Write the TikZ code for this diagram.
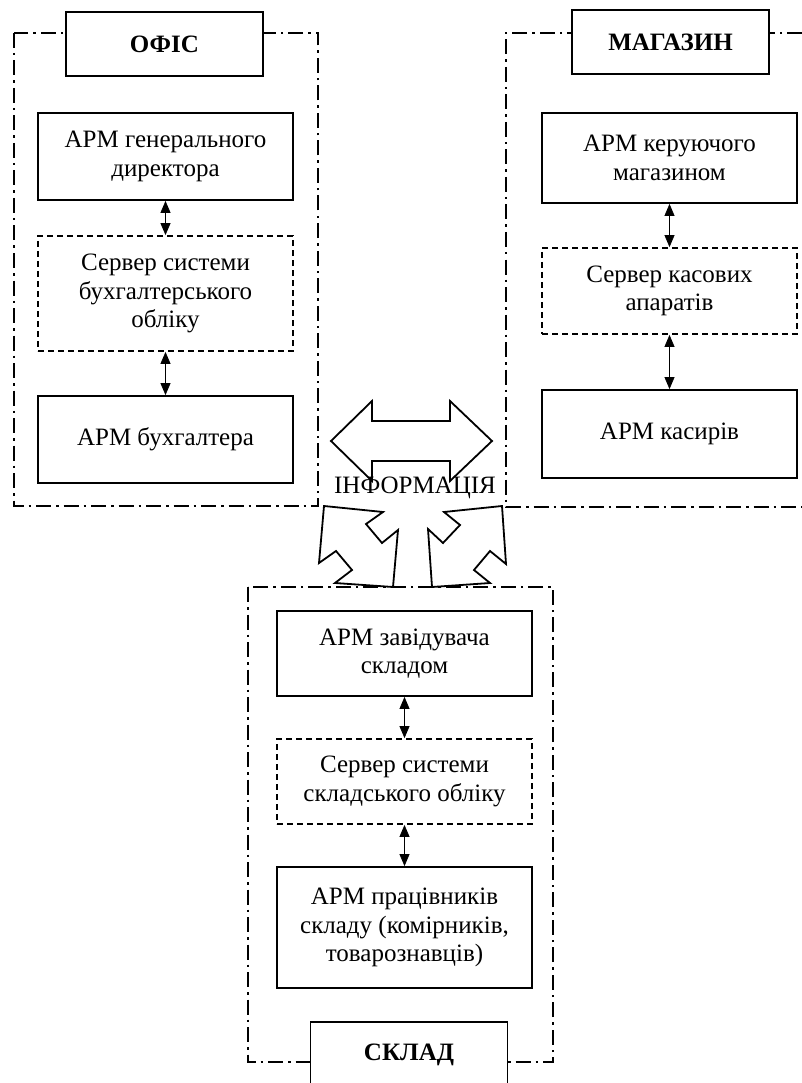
\documentclass[tikz,border=0pt]{standalone}
\usepackage{fontspec}
\setmainfont{Liberation Serif}
\usetikzlibrary{arrows.meta}

\begin{document}
\begin{tikzpicture}[x=1pt,y=-1pt,line width=1.8pt,
  every node/.style={font=\fontsize{25}{28.5}\selectfont},
  box/.style={draw,fill=white,minimum width=255pt,align=center,inner sep=2pt},
  srv/.style={box,dash pattern=on 6pt off 4pt},
  title/.style={draw,fill=white,minimum width=197pt,minimum height=64pt,font=\fontsize{25}{28.5}\selectfont\bfseries},
  zone/.style={dash pattern=on 15pt off 5pt on 2.5pt off 5pt},
  link/.style={line width=0.8pt,{Triangle[width=10pt,length=12pt]}-{Triangle[width=10pt,length=12pt]}},
  bigarrow/.style={draw,fill=white,line join=miter}]

\useasboundingbox (0,0) rectangle (802,1083);
\clip (0,0) rectangle (802,1083);

%OFIS
\draw[zone] (14,33) rectangle (318,506);
\node[title] (ofis) at (164.5,44) {ОФІС};
\node[box,minimum height=87pt] (gendir) at (165.5,156.5) {АРМ генерального\\директора};
\node[srv,minimum height=115pt] (buhsrv) at (165.5,293.5) {Сервер системи\\бухгалтерського\\обліку};
\node[box,minimum height=87pt] (buh) at (165.5,439.5) {АРМ бухгалтера};
\draw[link] (gendir) -- (buhsrv);
\draw[link] (buhsrv) -- (buh);

%MAGAZYN
\draw[zone] (802,33) -- (506,33) -- (506,507) -- (802,507);
\node[title] (mag) at (670.5,42) {МАГАЗИН};
\node[box,minimum height=90pt] (kermag) at (669.5,158) {АРМ керуючого\\магазином};
\node[srv,minimum height=86pt] (kassrv) at (669.5,291) {Сервер касових\\апаратів};
\node[box,minimum height=88pt] (kas) at (669.5,434) {АРМ касирів};
\draw[link] (kermag) -- (kassrv);
\draw[link] (kassrv) -- (kas);

%SKLAD
\draw[zone] (248,587) rectangle (553,1062);
\node[box,minimum height=85pt] (zav) at (404.5,653.5) {АРМ завідувача\\складом};
\node[srv,minimum height=85pt] (sklsrv) at (404.5,781.5) {Сервер системи\\складського обліку};
\node[box,minimum height=121pt] (prac) at (404.5,927.5) {АРМ працівників\\складу (комірників,\\товарознавців)};
\node[title,minimum height=66pt] (sklad) at (409,1055) {СКЛАД};
\draw[link] (zav) -- (sklsrv);
\draw[link] (sklsrv) -- (prac);

%INFO
\draw[bigarrow] (331,441) -- (372,401) -- (372,421) -- (450,421) -- (450,401) -- (492,441)
  -- (450,481) -- (450,461) -- (372,461) -- (372,481) -- cycle;
\draw[bigarrow] (324,506) -- (383,512) -- (366,524) -- (382,543) -- (398,530) -- (393,587)
  -- (335,583) -- (352,570) -- (336,551) -- (319,563) -- cycle;
\draw[bigarrow] (502,506) -- (506,564) -- (490,551) -- (474,570) -- (490,583) -- (432,587)
  -- (428,529) -- (443,543) -- (460,525) -- (444,512) -- cycle;
\node (info) at (415,488) {ІНФОРМАЦІЯ};

\end{tikzpicture}
\end{document}
